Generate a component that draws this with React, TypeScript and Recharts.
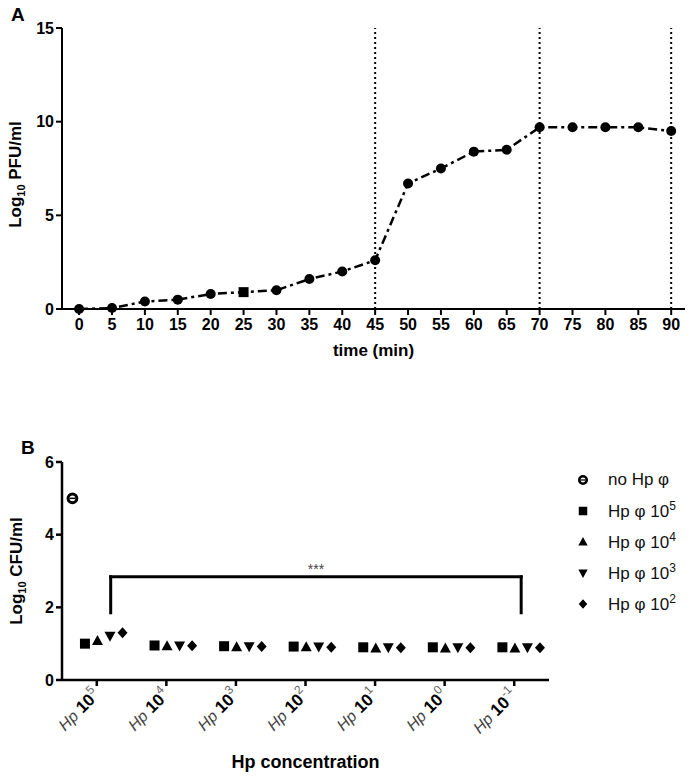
import React from 'react';
import {
  LineChart, Line, XAxis, YAxis, ReferenceLine, ScatterChart, Scatter, ReferenceDot, Legend,
} from 'recharts';

const FONT = '"Liberation Sans", Arial, Helvetica, sans-serif';

// ---------- Panel A data ----------
const timeMin = [0, 5, 10, 15, 20, 25, 30, 35, 40, 45, 50, 55, 60, 65, 70, 75, 80, 85, 90];
const log10Pfu = [0, 0.05, 0.4, 0.5, 0.8, 0.9, 1.0, 1.6, 2.0, 2.6, 6.7, 7.5, 8.4, 8.5, 9.7, 9.7, 9.7, 9.7, 9.5];
const squareMarkerTime = 25;
const markerLineTimes = [45, 70, 90];
const pfuTicks = [0, 5, 10, 15];

// ---------- Panel B data ----------
const hpExponents = ['5', '4', '3', '2', '1', '0', '-1'];
const hpTickPositions = [0, 1, 2, 3, 4, 5, 6];
const noHpValues = [5.0];
const hp105Values = [1.0, 0.95, 0.93, 0.92, 0.9, 0.9, 0.9];
const hp104Values = [1.07, 0.93, 0.9, 0.9, 0.87, 0.87, 0.87];
const hp103Values = [1.22, 0.95, 0.93, 0.92, 0.9, 0.9, 0.9];
const hp102Values = [1.3, 0.94, 0.92, 0.9, 0.89, 0.89, 0.89];
const cfuTicks = [0, 2, 4, 6];
const bracketEnds = [0.2, 6.1];
const bracketTop = 2.84;
const bracketFoot = 1.85;
const sigLabel = '***';

const pfuData = timeMin.map((t, i) => ({ t, v: log10Pfu[i] }));

type Kind = 'ring' | 'square' | 'up' | 'down' | 'diamond';

const seriesB: { label: string; exp: string | null; values: number[]; kind: Kind; offset: number }[] = [
  { label: 'no Hp \u03c6', exp: null, values: noHpValues, kind: 'ring', offset: -0.35 },
  { label: 'Hp \u03c6 10', exp: '5', values: hp105Values, kind: 'square', offset: -0.17 },
  { label: 'Hp \u03c6 10', exp: '4', values: hp104Values, kind: 'up', offset: 0.01 },
  { label: 'Hp \u03c6 10', exp: '3', values: hp103Values, kind: 'down', offset: 0.19 },
  { label: 'Hp \u03c6 10', exp: '2', values: hp102Values, kind: 'diamond', offset: 0.37 },
];

function Marker({ kind, cx, cy, s = 1 }: { kind: Kind; cx: number; cy: number; s?: number }) {
  switch (kind) {
    case 'ring':
      return (
        <g>
          <circle cx={cx} cy={cy} r={4.4 * s} fill="#fff" stroke="#000" strokeWidth={3 * s} />
          <line x1={cx - 3 * s} y1={cy} x2={cx + 3 * s} y2={cy} stroke="#000" strokeWidth={1.5 * s} />
        </g>
      );
    case 'square':
      return <rect x={cx - 5 * s} y={cy - 5 * s} width={10 * s} height={10 * s} fill="#000" />;
    case 'up':
      return <polygon points={`${cx},${cy - 6 * s} ${cx + 5.5 * s},${cy + 4 * s} ${cx - 5.5 * s},${cy + 4 * s}`} fill="#000" />;
    case 'down':
      return <polygon points={`${cx - 5.5 * s},${cy - 4 * s} ${cx + 5.5 * s},${cy - 4 * s} ${cx},${cy + 6 * s}`} fill="#000" />;
    case 'diamond':
      return <polygon points={`${cx},${cy - 5.5 * s} ${cx + 5 * s},${cy} ${cx},${cy + 5.5 * s} ${cx - 5 * s},${cy}`} fill="#000" />;
  }
  return null;
}

const renderPfuDot = (p: any) => {
  const { cx, cy, payload, index } = p;
  if (payload.t === squareMarkerTime) {
    return <rect key={`d${index}`} x={cx - 5} y={cy - 5} width={10} height={10} fill="#000" />;
  }
  return <circle key={`d${index}`} cx={cx} cy={cy} r={5} fill="#000" />;
};

const yTitle = (unit: string, baselineX: number, shift: number) => (props: any) => {
  const vb = props.viewBox || { x: 0, y: 0, width: 0, height: 0 };
  const cy = vb.y + vb.height / 2 + shift;
  return (
    <text transform={`translate(${baselineX},${cy}) rotate(-90)`} textAnchor="middle"
      fontFamily={FONT} fontWeight="bold" fontSize={17} fill="#000">
      <tspan>Log</tspan>
      <tspan fontSize={11} dy={4}>10</tspan>
      <tspan dy={-4}>{' ' + unit}</tspan>
    </text>
  );
};

const xTitle = (text: string, dy: number, size: number) => (props: any) => {
  const vb = props.viewBox || { x: 0, y: 0, width: 0, height: 0 };
  return (
    <text x={vb.x + vb.width / 2} y={vb.y + dy} textAnchor="middle"
      fontFamily={FONT} fontWeight="bold" fontSize={size} fill="#000">{text}</text>
  );
};

const HpTick = (props: any) => {
  const { x, y, payload } = props;
  const exp = hpExponents[payload.value];
  return (
    <g transform={`translate(${x + 4},${y + 8})`}>
      <text transform="rotate(-45)" textAnchor="end" fontFamily={FONT}>
        <tspan fontStyle="italic" fill="#444" fontSize={16}>Hp </tspan>
        <tspan fontWeight="bold" fill="#000" fontSize={17}>10</tspan>
        <tspan fill="#666" fontSize={12} dy={-8}>{exp}</tspan>
      </text>
    </g>
  );
};

const LegendBox = () => (
  <div style={{ fontFamily: FONT, fontSize: 17, color: '#111' }}>
    {seriesB.map((s, i) => (
      <div key={i} style={{ display: 'flex', alignItems: 'center', height: 31 }}>
        <svg width={14} height={14} style={{ marginRight: 18, flex: 'none' }}>
          <Marker kind={s.kind} cx={7} cy={7} s={0.85} />
        </svg>
        <span style={{ whiteSpace: 'nowrap' }}>
          {s.label}
          {s.exp && <sup style={{ fontSize: 12 }}>{s.exp}</sup>}
        </span>
      </div>
    ))}
  </div>
);

const axisStroke = { stroke: '#000', strokeWidth: 2 };
const tickFont = { fill: '#000', fontSize: 16, fontWeight: 'bold' as const, fontFamily: FONT };

export default function App() {
  return (
    <div style={{ position: 'absolute', left: 0, top: 0, width: 700, height: 777, background: '#fff' }}>
      <div style={{ position: 'absolute', left: 11, top: 5, fontFamily: FONT, fontWeight: 'bold', fontSize: 19, lineHeight: 1 }}>A</div>
      <div style={{ position: 'absolute', left: 21, top: 438, fontFamily: FONT, fontWeight: 'bold', fontSize: 19, lineHeight: 1 }}>B</div>

      <div style={{ position: 'absolute', left: 0, top: 0 }}>
        <LineChart width={700} height={370} data={pfuData} margin={{ top: 28, right: 15, bottom: 11, left: 0 }}>
          <XAxis dataKey="t" type="number" domain={[-2.6, 92.1]} ticks={timeMin} interval={0} allowDataOverflow
            axisLine={axisStroke} tickLine={axisStroke} tickSize={6} tickMargin={4} height={50}
            tick={tickFont} label={{ content: xTitle('time (min)', 47, 17) }} />
          <YAxis type="number" domain={[0, 15]} ticks={pfuTicks} interval={0} width={62}
            axisLine={axisStroke} tickLine={axisStroke} tickSize={6} tickMargin={2}
            tick={tickFont} label={{ content: yTitle('PFU/ml', 21, 6) }} />
          {markerLineTimes.map((t) => (
            <ReferenceLine key={t} x={t} stroke="#000" strokeWidth={2} strokeDasharray="2 3" />
          ))}
          <Line dataKey="v" type="linear" stroke="#000" strokeWidth={2.5} strokeDasharray="9 4 3 4"
            dot={renderPfuDot} activeDot={false} isAnimationActive={false} />
        </LineChart>
      </div>

      <div style={{ position: 'absolute', left: 0, top: 400 }}>
        <ScatterChart width={700} height={377} margin={{ top: 62, right: 151, bottom: 27, left: 0 }}>
          <XAxis type="number" dataKey="x" domain={[-0.5, 6.5]} ticks={hpTickPositions} interval={0} allowDataOverflow
            axisLine={{ stroke: '#000', strokeWidth: 2.5 }} tickLine={{ stroke: '#000', strokeWidth: 2.5 }} tickSize={6}
            height={70} tick={<HpTick />} label={{ content: xTitle('Hp concentration', 88, 18) }} />
          <YAxis type="number" dataKey="y" domain={[0, 6]} ticks={cfuTicks} interval={0} width={62}
            axisLine={{ stroke: '#000', strokeWidth: 2.5 }} tickLine={{ stroke: '#000', strokeWidth: 2.5 }} tickSize={6}
            tick={tickFont} label={{ content: yTitle('CFU/ml', 22, 0) }} />
          {seriesB.map((s, si) => (
            <Scatter key={si} name={s.label + (s.exp ? s.exp : '')}
              data={s.values.map((v, i) => ({ x: i + s.offset, y: v }))}
              shape={(p: any) => <Marker kind={s.kind} cx={p.cx} cy={p.cy} />}
              isAnimationActive={false} />
          ))}
          <ReferenceLine segment={[{ x: bracketEnds[0], y: bracketFoot }, { x: bracketEnds[0], y: bracketTop }]}
            stroke="#000" strokeWidth={3} strokeLinecap="square" />
          <ReferenceLine segment={[{ x: bracketEnds[1], y: bracketFoot }, { x: bracketEnds[1], y: bracketTop }]}
            stroke="#000" strokeWidth={3} strokeLinecap="square" />
          <ReferenceLine segment={[{ x: bracketEnds[0], y: bracketTop }, { x: bracketEnds[1], y: bracketTop }]}
            stroke="#000" strokeWidth={3} strokeLinecap="square" />
          <ReferenceDot x={(bracketEnds[0] + bracketEnds[1]) / 2} y={bracketTop} r={0} fill="none" stroke="none"
            label={{ value: sigLabel, position: 'top', offset: 3, fill: '#444', fontSize: 14, fontFamily: FONT }} />
          <Legend layout="vertical" align="center" verticalAlign="middle" content={() => <LegendBox />}
            wrapperStyle={{ left: 576, top: 64, width: 124, height: 160 }} />
        </ScatterChart>
      </div>
    </div>
  );
}
